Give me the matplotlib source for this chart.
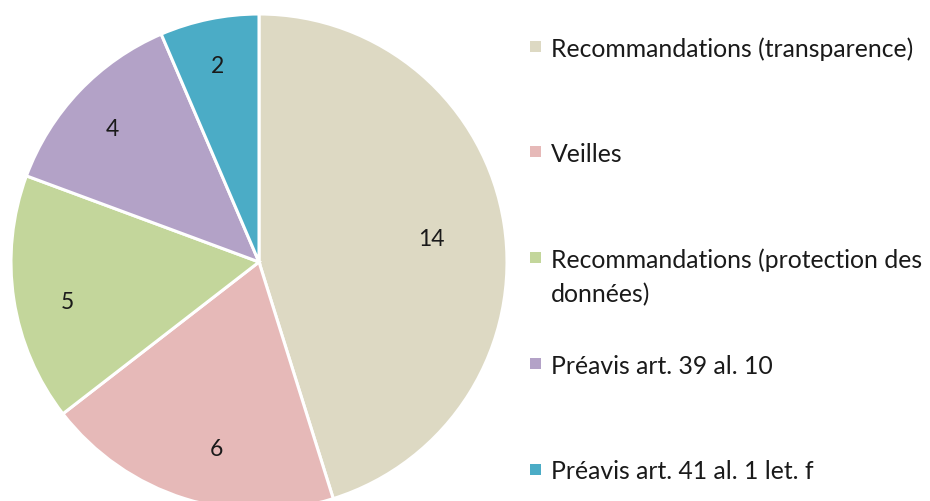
import matplotlib
matplotlib.use("Agg")
import matplotlib.pyplot as plt
import numpy as np

categories = ["Recommandations (transparence)", "Veilles",
              "Recommandations (protection des\ndonnées)",
              "Préavis art. 39 al. 10", "Préavis art. 41 al. 1 let. f"]
values = [14, 6, 5, 4, 2]
colors = ["#DDD9C3", "#E6B9B8", "#C3D69B", "#B3A2C7", "#4BACC6"]
# label placement style (radius fraction, angle nudge in degrees)
label_r = [0.70, 0.77, 0.79, 0.80, 0.81]
label_dang = [-1.0, 4.5, 2.8, 1.4, 0.2]

plt.rcParams['font.family'] = ['Lato', 'DejaVu Sans']

W, H = 930, 502
fig = plt.figure(figsize=(W / 100, H / 100), dpi=100)
ax = fig.add_axes([0, 0, 1, 1])
ax.axis('off')

cx, cy, R = 259, H - 263, 248
wedges, _ = ax.pie(values, colors=colors, startangle=90, counterclock=False,
                   center=(cx, cy), radius=R,
                   wedgeprops=dict(edgecolor='white', linewidth=2.2))
ax.set_xlim(0, W)
ax.set_ylim(0, H)
ax.set_aspect('equal')
for w, v, lr, da in zip(wedges, values, label_r, label_dang):
    ang = np.deg2rad((w.theta1 + w.theta2) / 2 + da)
    ax.text(cx + lr * R * np.cos(ang), cy + lr * R * np.sin(ang), str(v),
            ha='center', va='center', fontsize=16.5, color='#1a1a1a')

leg_y = [47, 152.5, 258, 364, 470]
line_gap = 35
for cat, col, y in zip(categories, colors, leg_y):
    fig.patches.append(plt.Rectangle((530 / W, 1 - (y + 5.5) / H), 11 / W, 11 / H,
                                     transform=fig.transFigure, facecolor=col,
                                     edgecolor='none'))
    for i, line in enumerate(cat.split("\n")):
        fig.text(551 / W, 1 - (y + i * line_gap) / H, line, ha='left',
                 va='center_baseline', fontsize=17.8, color='#1a1a1a')

fig.savefig("out.png", dpi=100)
